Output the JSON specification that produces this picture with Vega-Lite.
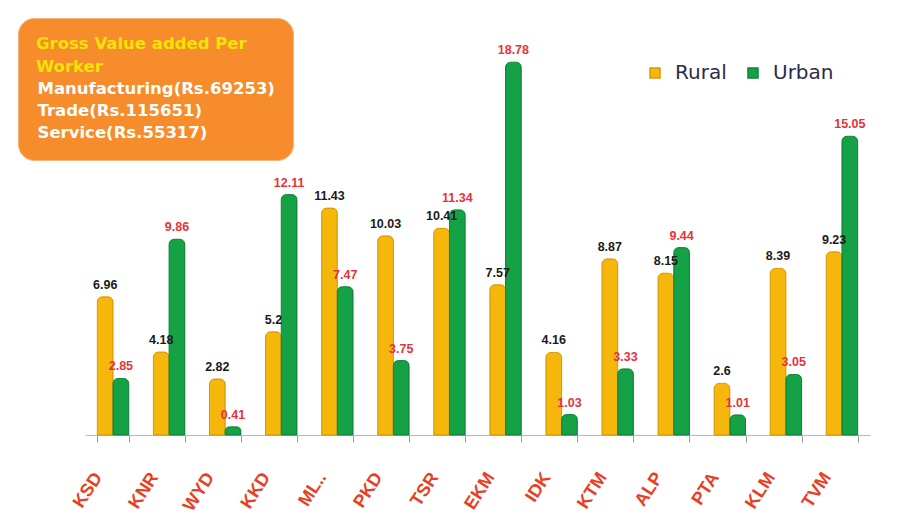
{
  "$schema": "https://vega.github.io/schema/vega-lite/v6.json",
  "autosize": {"type": "none"},
  "width": 785,
  "height": 397,
  "padding": {"left": 85, "top": 38, "right": 50, "bottom": 87},
  "background": "white",
  "config": {"view": {"stroke": null}},
  "datasets": {
    "gva": [
      {"district": "KSD", "type": "Rural", "value": 6.96},
      {"district": "KSD", "type": "Urban", "value": 2.85},
      {"district": "KNR", "type": "Rural", "value": 4.18},
      {"district": "KNR", "type": "Urban", "value": 9.86},
      {"district": "WYD", "type": "Rural", "value": 2.82},
      {"district": "WYD", "type": "Urban", "value": 0.41},
      {"district": "KKD", "type": "Rural", "value": 5.2},
      {"district": "KKD", "type": "Urban", "value": 12.11},
      {"district": "ML..", "type": "Rural", "value": 11.43},
      {"district": "ML..", "type": "Urban", "value": 7.47},
      {"district": "PKD", "type": "Rural", "value": 10.03},
      {"district": "PKD", "type": "Urban", "value": 3.75},
      {"district": "TSR", "type": "Rural", "value": 10.41},
      {"district": "TSR", "type": "Urban", "value": 11.34},
      {"district": "EKM", "type": "Rural", "value": 7.57},
      {"district": "EKM", "type": "Urban", "value": 18.78},
      {"district": "IDK", "type": "Rural", "value": 4.16},
      {"district": "IDK", "type": "Urban", "value": 1.03},
      {"district": "KTM", "type": "Rural", "value": 8.87},
      {"district": "KTM", "type": "Urban", "value": 3.33},
      {"district": "ALP", "type": "Rural", "value": 8.15},
      {"district": "ALP", "type": "Urban", "value": 9.44},
      {"district": "PTA", "type": "Rural", "value": 2.6},
      {"district": "PTA", "type": "Urban", "value": 1.01},
      {"district": "KLM", "type": "Rural", "value": 8.39},
      {"district": "KLM", "type": "Urban", "value": 3.05},
      {"district": "TVM", "type": "Rural", "value": 9.23},
      {"district": "TVM", "type": "Urban", "value": 15.05}
    ],
    "notes": [
      {"note": "Manufacturing(Rs.69253)"},
      {"note": "Trade(Rs.115651)"},
      {"note": "Service(Rs.55317)"}
    ]
  },
  "layer": [
    {
      "data": {"name": "gva"},
      "mark": {"type": "bar", "cornerRadiusTopLeft": 5, "cornerRadiusTopRight": 5, "strokeWidth": 1},
      "encoding": {
        "x": {
          "field": "district", "type": "nominal", "sort": null,
          "scale": {"paddingInner": 0.44, "paddingOuter": 0.22},
          "axis": {
            "title": null, "domainColor": "#b8b8b8", "tickColor": "#9a9a9a", "tickSize": 7,
            "tickBand": "extent", "labelAngle": -57, "labelFontSize": 18, "labelFont": "Liberation Sans",
            "labelFontWeight": "bold", "labelColor": "#E8401F", "labelPadding": 32, "labelOffset": -15
          }
        },
        "xOffset": {"field": "type", "type": "nominal", "scale": {"paddingInner": 0}},
        "y": {"field": "value", "type": "quantitative", "scale": {"domain": [0, 20]}, "axis": null},
        "color": {
          "field": "type", "type": "nominal",
          "scale": {"domain": ["Rural", "Urban"], "range": ["#F5B70C", "#15A146"]},
          "legend": {
            "title": null, "orient": "none", "direction": "horizontal", "legendX": 560, "legendY": 25,
            "symbolType": "square", "symbolSize": 100, "labelFontSize": 20, "labelFont": "DejaVu Sans",
            "labelColor": "#2b2b4a", "columnPadding": 16, "padding": 0, "labelOffset": 10
          }
        },
        "stroke": {
          "field": "type", "type": "nominal",
          "scale": {"domain": ["Rural", "Urban"], "range": ["#D89B00", "#0E8438"]},
          "legend": null
        }
      }
    },
    {
      "data": {"name": "gva"},
      "mark": {"type": "text", "dy": -12, "fontSize": 12.5, "fontWeight": "bold", "font": "Liberation Sans"},
      "encoding": {
        "x": {"field": "district", "type": "nominal", "sort": null},
        "xOffset": {"field": "type", "type": "nominal"},
        "y": {"field": "value", "type": "quantitative"},
        "text": {"field": "value", "type": "quantitative"},
        "color": {"condition": {"test": "datum.type === 'Rural'", "value": "#1a1a1a"}, "value": "#E8323A"}
      }
    },
    {
      "data": {"name": "notes"},
      "mark": {"type": "point", "opacity": 0},
      "encoding": {
        "shape": {
          "field": "note", "type": "nominal",
          "scale": {"domain": ["Manufacturing(Rs.69253)", "Trade(Rs.115651)", "Service(Rs.55317)"], "range": ["square", "square", "square"]},
          "legend": {
            "title": ["Gross Value added Per", "Worker"], "orient": "none", "legendX": -67, "legendY": -20,
            "fillColor": "#F68C2B", "strokeColor": "#F9B37A", "cornerRadius": 16, "padding": 18,
            "titleColor": "#F2E205", "titleFontSize": 16.5, "titleFont": "DejaVu Sans", "titleFontWeight": "bold",
            "titleLineHeight": 23, "titlePadding": 5, "titleLimit": 320,
            "labelColor": "#FFFFFF", "labelFontSize": 16.5, "labelFont": "DejaVu Sans", "labelFontWeight": "bold",
            "labelOffset": -15, "labelLimit": 320, "symbolSize": 0, "symbolStrokeWidth": 0, "symbolOpacity": 0, "rowPadding": 5
          }
        }
      }
    }
  ]
}
